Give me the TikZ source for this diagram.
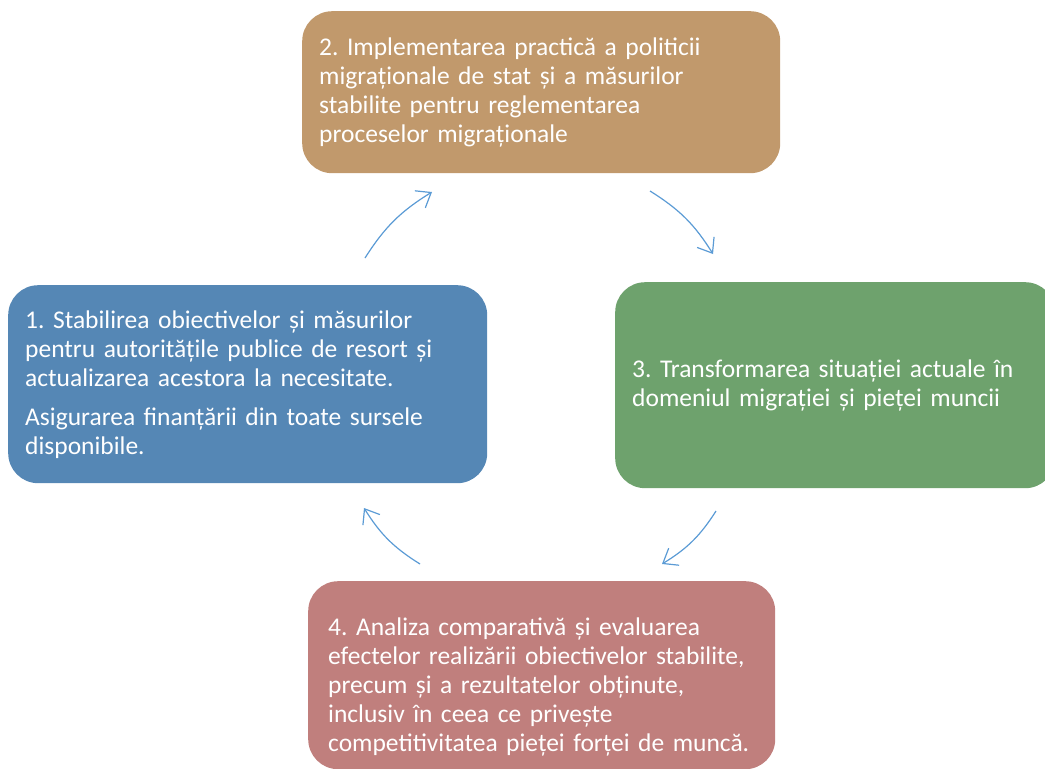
\documentclass[tikz,border=0pt]{standalone}
\usepackage{fontspec}
\setmainfont{Carlito}
\usepackage{xcolor}
\usetikzlibrary{arrows.meta}

\definecolor{stepblue}{RGB}{85,135,181}
\definecolor{steptan}{RGB}{193,153,108}
\definecolor{stepgreen}{RGB}{110,162,109}
\definecolor{steprose}{RGB}{192,127,125}
\definecolor{arrowblue}{RGB}{91,155,213}

\tikzset{
  cyclebox/.style={rounded corners=30, anchor=north west, inner xsep=17, inner ysep=0,
    align=left, text=white, font=\fontsize{25.5}{29}\selectfont},
  cyclearrow/.style={draw=arrowblue, line width=1.2, -{Straight Barb[length=13pt,width=20pt]}, bend right=13}
}

\begin{document}
\frenchspacing
\begin{tikzpicture}[x=1pt,y=1pt,yscale=-1,xscale=1]
\useasboundingbox (0,0) rectangle (1045,769);

% Boxes
\node [cyclebox, fill=stepblue, minimum width=479, minimum height=198, text width=445] (stabilire) at (8,285)
  {1. Stabilirea obiectivelor și măsurilor\\ pentru autoritățile publice de resort și\\ actualizarea acestora la necesitate.\\[10pt]
   Asigurarea finanțării din toate sursele\\ disponibile.};
\node [cyclebox, fill=steptan, minimum width=478, minimum height=162, text width=444] (implementare) at (302,11)
  {2. Implementarea practică a politicii\\ migraționale de stat și a măsurilor\\ stabilite pentru reglementarea\\ proceselor migraționale};
\node [cyclebox, fill=stepgreen, minimum width=440, minimum height=206, text width=406] (transformare) at (615,282)
  {3. Transformarea situației actuale în\\ domeniul migrației și pieței muncii};
\node [cyclebox, fill=steprose, minimum width=467, minimum height=188] (analiza) at (308,581) {};
\node [cyclebox, text width=440, inner xsep=0] (analiza text) at ([xshift=20,yshift=37]analiza.north west)
  {4. Analiza comparativă și evaluarea\\ efectelor realizării obiectivelor stabilite,\\ precum și a rezultatelor obținute,\\ inclusiv în ceea ce privește\\ competitivitatea pieței forței de muncă.};

% Arrow ends
\coordinate (a1s) at (365,258);
\coordinate (a1e) at (432,192);
\coordinate (a2s) at (650,191);
\coordinate (a2e) at (713,254);
\coordinate (a3s) at (716,511);
\coordinate (a3e) at (662,564);
\coordinate (a4s) at (420,564);
\coordinate (a4e) at (364,508);

% Arrows
\draw [cyclearrow] (a1s) to (a1e);
\draw [cyclearrow] (a2s) to (a2e);
\draw [cyclearrow] (a3s) to (a3e);
\draw [cyclearrow] (a4s) to (a4e);

\end{tikzpicture}
\end{document}
